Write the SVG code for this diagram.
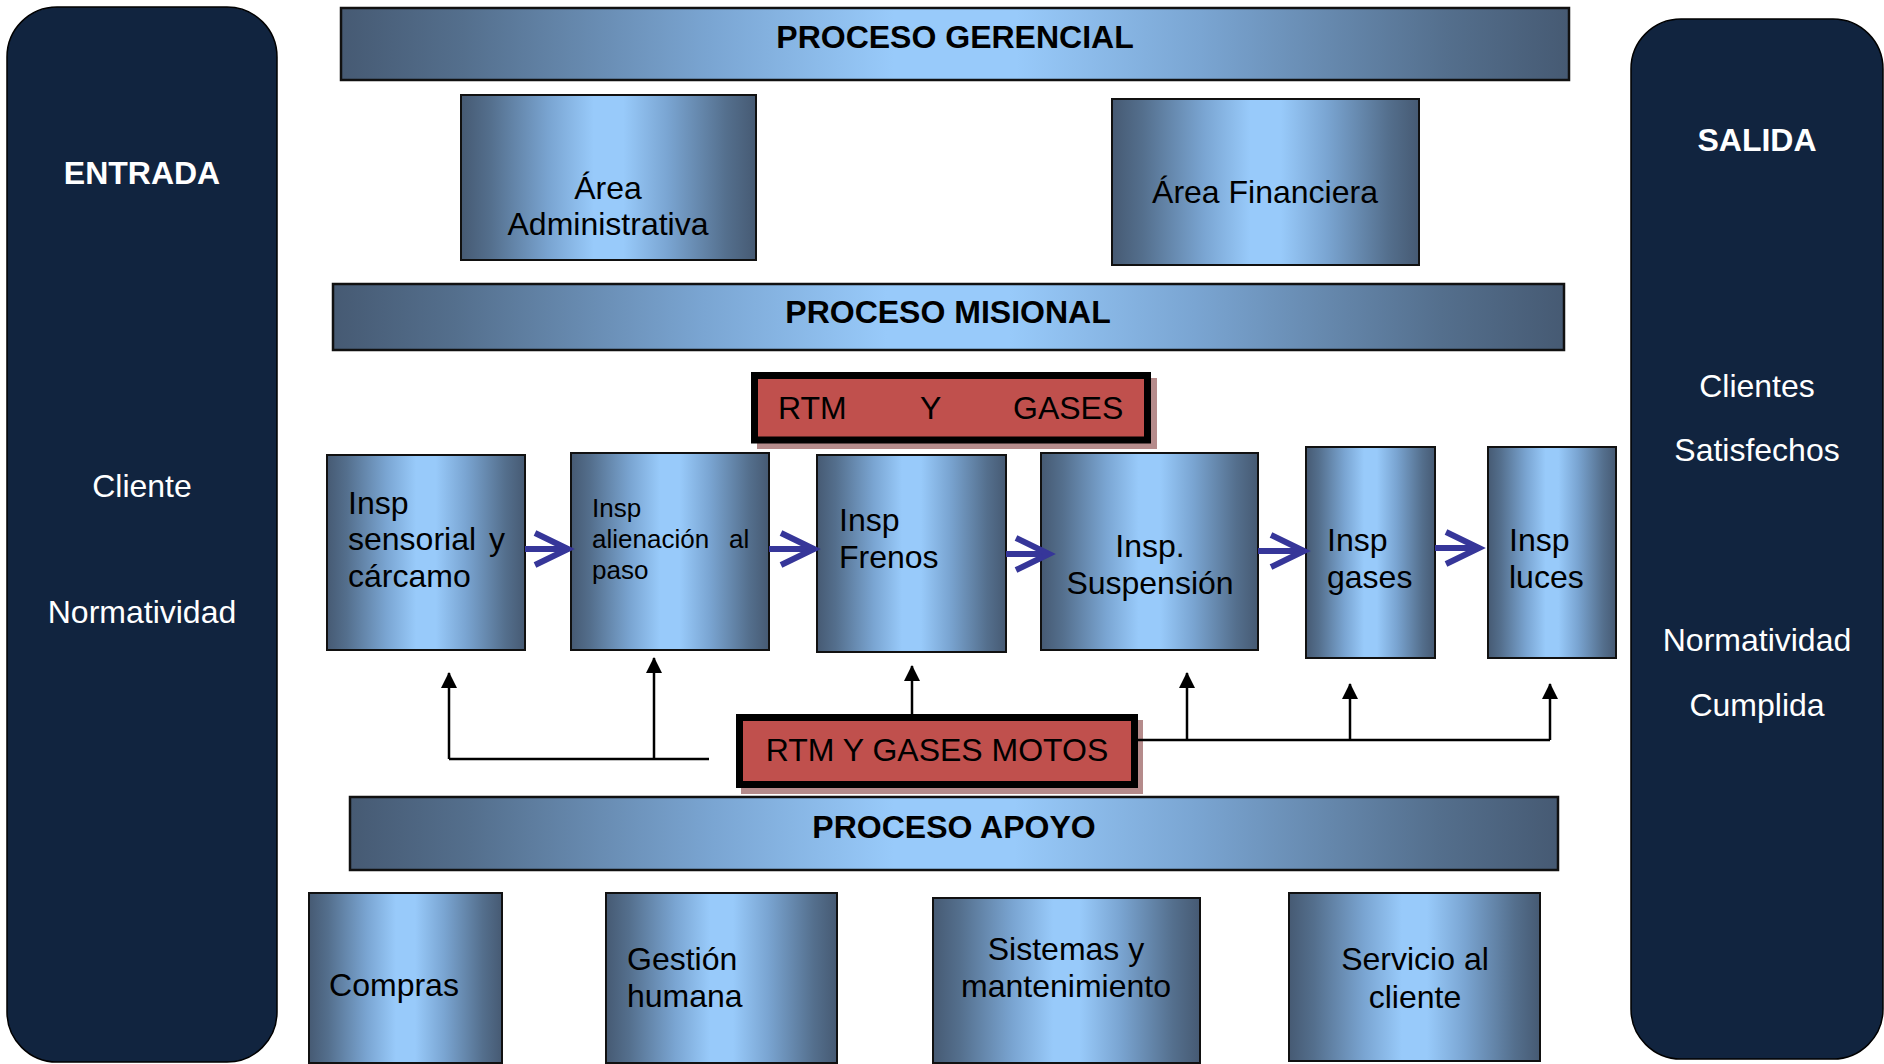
<svg xmlns="http://www.w3.org/2000/svg" width="1884" height="1064" viewBox="0 0 1884 1064">
<defs>
<linearGradient id="g" x1="0" y1="0" x2="1" y2="0">
<stop offset="0" stop-color="#465a73"/>
<stop offset="0.1" stop-color="#546f8d"/>
<stop offset="0.3" stop-color="#7aa5d2"/>
<stop offset="0.45" stop-color="#98cafa"/>
<stop offset="0.55" stop-color="#98cafa"/>
<stop offset="0.7" stop-color="#7aa5d2"/>
<stop offset="0.9" stop-color="#546f8d"/>
<stop offset="1" stop-color="#465a73"/>
</linearGradient>
<marker id="chev" markerUnits="userSpaceOnUse" markerWidth="44" markerHeight="44" viewBox="0 0 44 44" refX="36" refY="22" orient="auto" overflow="visible">
<path d="M3 6 L36 22 L3 38" fill="none" stroke="#363699" stroke-width="6"/>
</marker>
<marker id="tri" markerUnits="userSpaceOnUse" markerWidth="16" markerHeight="16" viewBox="0 0 16 16" refX="15" refY="8" orient="auto" overflow="visible">
<path d="M0 0 L16 8 L0 16 z" fill="#000"/>
</marker>
</defs>
<style>
text{font-family:"Liberation Sans",Arial,sans-serif;fill:#000}
.panel{fill:#11243f;stroke:#000;stroke-width:1.5}
.box{fill:url(#g);stroke:#111;stroke-width:2}
.bar{fill:url(#g);stroke:#111;stroke-width:2.5}
.red{fill:#c0504d;stroke:#000;stroke-width:7}
.shadow{fill:#b58b8b}
.w{fill:#fff;font-size:32px}
.wb{fill:#fff;font-size:32px;font-weight:bold}
.t{font-size:32px}
.tb{font-size:32px;font-weight:bold}
.s{font-size:26px}
.c{text-anchor:middle}
.blue{stroke:#363699;stroke-width:6;fill:none;marker-end:url(#chev)}
.blk{stroke:#000;stroke-width:2.5;fill:none}
.up{marker-end:url(#tri)}
</style>

<g id="entrada">
<rect class="panel" x="7" y="7" width="270" height="1055" rx="50" ry="50"/>
<text class="wb c" x="142" y="184">ENTRADA</text>
<text class="w c" x="142" y="497">Cliente</text>
<text class="w c" x="142" y="623">Normatividad</text>
</g>

<g id="salida">
<rect class="panel" x="1631" y="19" width="252" height="1040" rx="50" ry="50"/>
<text class="wb c" x="1757" y="151">SALIDA</text>
<text class="w c" x="1757" y="397">Clientes</text>
<text class="w c" x="1757" y="461">Satisfechos</text>
<text class="w c" x="1757" y="651">Normatividad</text>
<text class="w c" x="1757" y="716">Cumplida</text>
</g>

<g id="proceso-gerencial">
<rect class="bar" x="341" y="8" width="1228" height="72"/>
<text class="tb c" x="955" y="48">PROCESO GERENCIAL</text>
</g>

<g id="area-administrativa">
<rect class="box" x="461" y="95" width="295" height="165"/>
<text class="t c" x="608" y="199">Área</text>
<text class="t c" x="608" y="235">Administrativa</text>
</g>

<g id="area-financiera">
<rect class="box" x="1112" y="99" width="307" height="166"/>
<text class="t c" x="1265" y="203">Área Financiera</text>
</g>

<g id="proceso-misional">
<rect class="bar" x="333" y="284" width="1231" height="66"/>
<text class="tb c" x="948" y="323">PROCESO MISIONAL</text>
</g>

<g id="rtm-gases">
<rect class="shadow" x="757" y="378" width="400" height="71"/>
<rect class="red" x="754.5" y="375.5" width="393" height="64.5"/>
<text class="t" y="419"><tspan x="778">RTM</tspan><tspan x="920">Y</tspan><tspan x="1013">GASES</tspan></text>
</g>

<g id="insp-sensorial">
<rect class="box" x="327" y="455" width="198" height="195"/>
<text class="t" x="348" y="514">Insp</text>
<text class="t" y="550"><tspan x="348">sensorial</tspan><tspan x="489">y</tspan></text>
<text class="t" x="348" y="587">cárcamo</text>
</g>

<g id="insp-alienacion">
<rect class="box" x="571" y="453" width="198" height="197"/>
<text class="s" x="592" y="517">Insp</text>
<text class="s" y="548"><tspan x="592">alienación</tspan><tspan x="729">al</tspan></text>
<text class="s" x="592" y="579">paso</text>
</g>

<g id="insp-frenos">
<rect class="box" x="817" y="455" width="189" height="197"/>
<text class="t" x="839" y="531">Insp</text>
<text class="t" x="839" y="568">Frenos</text>
</g>

<g id="insp-suspension">
<rect class="box" x="1041" y="453" width="217" height="197"/>
<text class="t c" x="1150" y="557">Insp.</text>
<text class="t c" x="1150" y="594">Suspensión</text>
</g>

<g id="insp-gases">
<rect class="box" x="1306" y="447" width="129" height="211"/>
<text class="t" x="1327" y="551">Insp</text>
<text class="t" x="1327" y="588">gases</text>
</g>

<g id="insp-luces">
<rect class="box" x="1488" y="447" width="128" height="211"/>
<text class="t" x="1509" y="551">Insp</text>
<text class="t" x="1509" y="588">luces</text>
</g>

<g id="rtm-gases-motos">
<rect class="shadow" x="741" y="720" width="402" height="74"/>
<rect class="red" x="739.5" y="717.5" width="395" height="67"/>
<text class="t c" x="937" y="761">RTM Y GASES MOTOS</text>
</g>

<g id="proceso-apoyo">
<rect class="bar" x="350" y="797" width="1208" height="73"/>
<text class="tb c" x="954" y="838">PROCESO APOYO</text>
</g>

<g id="compras">
<rect class="box" x="309" y="893" width="193" height="170"/>
<text class="t c" x="394" y="996">Compras</text>
</g>

<g id="gestion-humana">
<rect class="box" x="606" y="893" width="231" height="170"/>
<text class="t" x="627" y="970">Gestión</text>
<text class="t" x="627" y="1007">humana</text>
</g>

<g id="sistemas">
<rect class="box" x="933" y="898" width="267" height="165"/>
<text class="t c" x="1066" y="960">Sistemas y</text>
<text class="t c" x="1066" y="997">mantenimiento</text>
</g>

<g id="servicio-cliente">
<rect class="box" x="1289" y="893" width="251" height="168"/>
<text class="t c" x="1415" y="970">Servicio al</text>
<text class="t c" x="1415" y="1008">cliente</text>
</g>

<g id="connectors">
<path class="blue" d="M525 549 H568"/>
<path class="blue" d="M769 549 H814"/>
<path class="blue" d="M1006 554 H1049"/>
<path class="blue" d="M1258 551 H1304"/>
<path class="blue" d="M1435 548 H1479"/>
<path class="blk" d="M709 759 H449"/>
<path class="blk up" d="M449 759 V673"/>
<path class="blk up" d="M654 759 V658"/>
<path class="blk up" d="M912 714 V666"/>
<path class="blk" d="M1138 740 H1550"/>
<path class="blk up" d="M1550 740 V684"/>
<path class="blk up" d="M1187 740 V673"/>
<path class="blk up" d="M1350 740 V684"/>
</g>
</svg>
